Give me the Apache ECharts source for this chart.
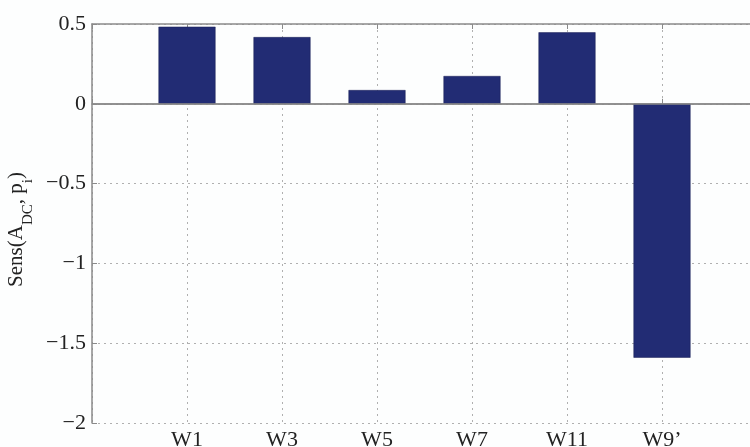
<!DOCTYPE html>
<html><head><meta charset="utf-8">
<script src="https://cdn.jsdelivr.net/npm/echarts@6/dist/echarts.min.js"></script>
<style>html,body{margin:0;padding:0;background:#fff}#c{width:750px;height:447px}</style>
</head><body><div id="c"></div>
<script>
var categories = ['W1','W3','W5','W7','W11','W9\u2019'];
var values = [0.483, 0.418, 0.086, 0.174, 0.448, -1.591];
var yTicks = [-2, -1.5, -1, -0.5, 0, 0.5];

var chart = echarts.init(document.getElementById('c'));
var font = 'Liberation Serif';
var axisGray = '#8a8a8a';
var data = values.map(function(v,i){ return [i+1, v]; });
chart.setOption({
  animation:false,
  backgroundColor:'#fdfefe',
  grid:{left:92, width:665, top:24, height:399, containLabel:false, outerBoundsMode:'none'},
  xAxis:[{
    type:'value', min:0, max:7, interval:1, position:'bottom',
    axisLine:{lineStyle:{color:axisGray, width:1.5}},
    axisTick:{inside:true, length:5, lineStyle:{color:axisGray}},
    axisLabel:{fontFamily:font, fontSize:22, color:'#222', margin:6,
      formatter:function(v){ return categories[v-1] || ''; }},
    splitLine:{show:true, lineStyle:{type:[2,4], color:'#b0b0b0', width:1}}
  },{
    type:'value', min:0, max:7, interval:1, position:'top',
    axisLine:{lineStyle:{color:axisGray, width:1.5}},
    axisTick:{inside:true, length:5, lineStyle:{color:axisGray}},
    axisLabel:{show:false}, splitLine:{show:false}
  }],
  yAxis:{
    type:'value', min:-2, max:0.5, interval:0.5,
    axisLine:{show:true, lineStyle:{color:axisGray, width:1.5}},
    axisTick:{show:true, inside:true, length:5, lineStyle:{color:axisGray}},
    axisLabel:{fontFamily:font, fontSize:22, color:'#222', margin:6,
      formatter:function(v){ return String(v).replace('-', '\u2212'); }},
    splitLine:{show:true, lineStyle:{type:[2,4], color:'#b0b0b0', width:1}},
    name:'{a|Sens(A}{b|DC}{a|, p}{b|i}{a|)}',
    nameLocation:'middle', nameRotate:90, nameGap:59,
    nameTextStyle:{padding:[0,12,0,0], rich:{
      a:{fontFamily:font, fontSize:21, color:'#222', lineHeight:24, verticalAlign:'top'},
      b:{fontFamily:font, fontSize:15, color:'#222', lineHeight:15, padding:[14,0,0,0], verticalAlign:'top'}
    }}
  },
  series:[{
    type:'bar', data:data, barWidth:57, xAxisIndex:0,
    itemStyle:{color:'#222c74', borderColor:'#1a1f55', borderWidth:0.5},
    markLine:{silent:true, symbol:'none', label:{show:false},
      lineStyle:{color:axisGray, type:'solid', width:1.5},
      data:[{yAxis:0}]},
    z:3
  }]
});
</script></body></html>
